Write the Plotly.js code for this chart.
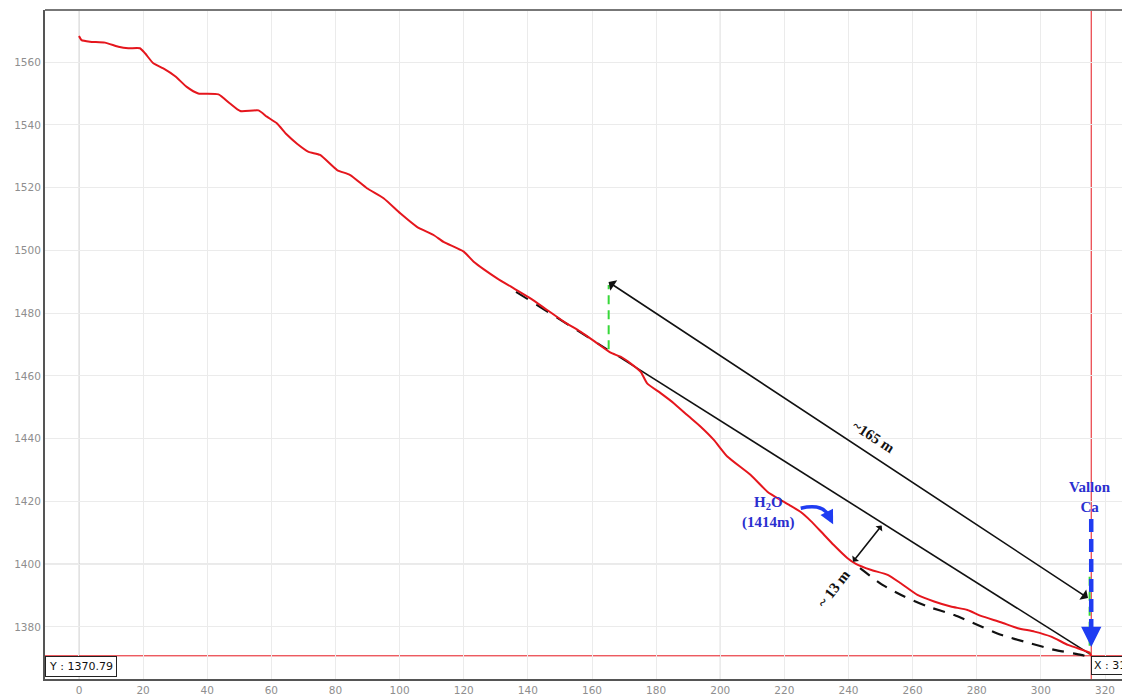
<!DOCTYPE html>
<html>
<head>
<meta charset="utf-8">
<script src="https://cdn.plot.ly/plotly-3.0.1.min.js"></script>
<style>html,body{margin:0;padding:0;background:#fff;}#chart{width:1122px;height:696px;}</style>
</head>
<body>
<div id="chart"></div>
<script>
// Terrain profile (distance m, altitude m)
var profX = [0,0.8,3.4,8.1,12.3,15.4,19.0,20.6,23.2,26.3,30.0,33.6,37.2,43.5,47.1,50.3,56.0,58.6,61.7,64.8,68.0,71.6,75.2,80.5,84.6,89.8,95.0,100.2,105.4,110.6,113.7,120.0,123.1,126.5,130.4,135.6,140.8,146.0,151.2,156.4,161.6,165.8,168.9,172.0,175.2,177.2,181.4,185.5,189.7,193.9,198.0,202.2,209.5,214.7,218.9,222.0,225.1,228.2,231.4,235.4,239.7,242.3,246.9,252.2,256.3,261.5,266.7,271.9,277.1,281.3,287.5,292.8,298.0,303.2,308.4,311.5,315.1,315.7];
var profY = [1568.3,1567.0,1566.5,1566.2,1564.9,1564.4,1564.4,1562.8,1559.6,1558.0,1555.5,1552.1,1550.0,1549.7,1546.8,1544.4,1544.6,1542.6,1540.5,1536.9,1534.0,1531.4,1530.4,1525.6,1524.0,1519.8,1516.6,1511.8,1507.5,1504.9,1502.7,1499.6,1496.4,1493.8,1491.1,1487.9,1484.7,1481.0,1477.3,1474.1,1470.4,1467.4,1466.1,1464.0,1461.3,1457.6,1454.5,1451.3,1447.5,1443.8,1439.6,1434.3,1428.4,1423.1,1420.4,1418.6,1416.6,1413.8,1410.4,1406.1,1401.9,1400.1,1398.2,1396.6,1393.9,1390.2,1388.1,1386.5,1385.4,1383.5,1381.5,1379.6,1378.5,1376.9,1374.3,1373.2,1371.8,1370.8];

// Construction lines
var slopeDashX = [136.3, 164.8];
var slopeDashY = [1486.8, 1468.4];
var slopeSolidX = [168.1, 315.2];
var slopeSolidY = [1466.3, 1371.4];
var lowDashX = [243.6, 250.6, 257.4, 264.7, 273.0, 280.3, 287.5, 295.9, 304.2, 312.5, 315.0];
var lowDashY = [1398.7, 1393.4, 1389.7, 1386.5, 1383.8, 1380.6, 1377.5, 1375.0, 1372.7, 1371.1, 1370.4];
var greenLeftX = [165.2, 165.2];
var greenLeftY = [1468.5, 1489.0];
var greenRightX = [315.2, 315.2];
var greenRightY = [1396.0, 1371.2];
var blueX = [315.7, 315.7];
var blueY = [1414.4, 1378.6];

// Measurement arrows [tailX, tailY, headX, headY]
var arrow165 = [164.7, 1490.2, 314.7, 1389.2];
var arrow13 = [250.7, 1412.8, 241.4, 1400.8];
var blueHead = [315.7, 1378.6, 315.7, 1373.6];
var curveArrow = [225.1, 1417.8, 232.0, 1419.4, 233.8, 1415.4];
var curveHead = [233.8, 1415.5, 235.2, 1412.7];

// Cursor
var cursorX = 315.7;
var cursorY = 1370.79;

// Labels
var lbl165 = {x: 247.9, y: 1440.5, text: '~165 m', angle: 33.2};
var lbl13 = {x: 235.2, y: 1392.2, text: '~ 13 m', angle: -52};
var lblH2O = {x: 215.0, y: 1416.4, text: 'H<sub>2</sub>O<br>(1414m)'};
var lblVallon = {x: 315.2, y: 1421.5, text: 'Vallon<br>Ca'};

var xRange = [-10.6, 325.3];
var yRange = [1363.4, 1576.6];

var RED = '#e5161d';
var BLUE = '#1f3cf2';
var BLUETXT = '#2b2fcf';
var GREEN = '#38d83a';

var traces = [
  {x: slopeDashX, y: slopeDashY, mode: 'lines', line: {color: '#111', width: 2, dash: '14px,10px'}, hoverinfo: 'skip'},
  {x: slopeSolidX, y: slopeSolidY, mode: 'lines', line: {color: '#111', width: 1.6}, hoverinfo: 'skip'},
  {x: lowDashX, y: lowDashY, mode: 'lines', line: {color: '#111', width: 2.2, dash: '12px,9px', shape: 'spline', smoothing: 0.6}, hoverinfo: 'skip'},
  {x: greenLeftX, y: greenLeftY, mode: 'lines', line: {color: GREEN, width: 2, dash: '9px,6px'}, hoverinfo: 'skip'},
  {x: greenRightX, y: greenRightY, mode: 'lines', line: {color: GREEN, width: 2, dash: '9px,6px'}, hoverinfo: 'skip'},
  {x: profX, y: profY, mode: 'lines', line: {color: RED, width: 2, shape: 'spline', smoothing: 0.5}, hoverinfo: 'skip'},
  {x: blueX, y: blueY, mode: 'lines', line: {color: BLUE, width: 4.5, dash: '13px,7px'}, hoverinfo: 'skip'}
];

var darkGrid = '#c4c4c4';
var shapes = [
  {type: 'line', xref: 'x', yref: 'paper', x0: 0, x1: 0, y0: 0, y1: 1, line: {color: darkGrid, width: 1}, layer: 'below'},
  {type: 'line', xref: 'x', yref: 'paper', x0: 200, x1: 200, y0: 0, y1: 1, line: {color: darkGrid, width: 1}, layer: 'below'},
  {type: 'line', xref: 'paper', yref: 'y', x0: 0, x1: 1, y0: 1400, y1: 1400, line: {color: darkGrid, width: 1}, layer: 'below'},
  {type: 'line', xref: 'paper', yref: 'paper', x0: 0, x1: 1, y0: 1, y1: 1, line: {color: '#777', width: 2}},
  {type: 'line', xref: 'x', yref: 'paper', x0: cursorX, x1: cursorX, y0: 0, y1: 1, line: {color: RED, width: 1}, layer: 'below'},
  {type: 'line', xref: 'paper', yref: 'y', x0: 0, x1: 1, y0: cursorY, y1: cursorY, line: {color: RED, width: 1}, layer: 'below'},
  {type: 'path', xref: 'x', yref: 'y',
   path: 'M ' + curveArrow[0] + ',' + curveArrow[1] + ' Q ' + curveArrow[2] + ',' + curveArrow[3] + ' ' + curveArrow[4] + ',' + curveArrow[5],
   line: {color: BLUE, width: 3.5}}
];

var serif = 'Liberation Serif, Times New Roman, serif';
var annotations = [
  {x: arrow165[2], y: arrow165[3], ax: arrow165[0], ay: arrow165[1], xref: 'x', yref: 'y', axref: 'x', ayref: 'y',
   showarrow: true, arrowhead: 1, startarrowhead: 1, arrowside: 'end+start', arrowsize: 1.3, startarrowsize: 1.3, arrowwidth: 1.6, arrowcolor: '#111', text: ''},
  {x: arrow13[2], y: arrow13[3], ax: arrow13[0], ay: arrow13[1], xref: 'x', yref: 'y', axref: 'x', ayref: 'y',
   showarrow: true, arrowhead: 1, startarrowhead: 1, arrowside: 'end+start', arrowsize: 0.9, startarrowsize: 0.9, arrowwidth: 1.6, arrowcolor: '#111', text: ''},
  {x: blueHead[2], y: blueHead[3], ax: blueHead[0], ay: blueHead[1], xref: 'x', yref: 'y', axref: 'x', ayref: 'y',
   showarrow: true, arrowhead: 2, arrowsize: 0.9, arrowwidth: 4.5, arrowcolor: BLUE, text: ''},
  {x: curveHead[2], y: curveHead[3], ax: curveHead[0], ay: curveHead[1], xref: 'x', yref: 'y', axref: 'x', ayref: 'y',
   showarrow: true, arrowhead: 2, arrowsize: 0.8, arrowwidth: 3.5, arrowcolor: BLUE, text: ''},
  {x: lbl165.x, y: lbl165.y, xref: 'x', yref: 'y', text: '<b>' + lbl165.text + '</b>', textangle: lbl165.angle, showarrow: false,
   font: {family: serif, size: 15, color: '#111'}},
  {x: lbl13.x, y: lbl13.y, xref: 'x', yref: 'y', text: '<b>' + lbl13.text + '</b>', textangle: lbl13.angle, showarrow: false,
   font: {family: serif, size: 15, color: '#111'}},
  {x: lblH2O.x, y: lblH2O.y, xref: 'x', yref: 'y', text: '<b>' + lblH2O.text + '</b>', showarrow: false,
   font: {family: serif, size: 15, color: BLUETXT}},
  {x: lblVallon.x, y: lblVallon.y, xref: 'x', yref: 'y', text: '<b>' + lblVallon.text + '</b>', showarrow: false,
   font: {family: serif, size: 15, color: BLUETXT}},
  {x: 0, y: cursorY, xref: 'paper', yref: 'y', xanchor: 'left', yanchor: 'top', text: 'Y : ' + cursorY.toFixed(2), showarrow: false,
   font: {family: 'DejaVu Sans, Verdana, sans-serif', size: 11, color: '#111'}, bgcolor: '#fff', bordercolor: '#222', borderwidth: 1, borderpad: 3},
  {x: cursorX, y: cursorY, xref: 'x', yref: 'y', xanchor: 'left', yanchor: 'top', text: 'X : ' + cursorX.toFixed(2), showarrow: false,
   font: {family: 'DejaVu Sans, Verdana, sans-serif', size: 11, color: '#111'}, bgcolor: '#fff', bordercolor: '#222', borderwidth: 1, borderpad: 2}
];

var tickFont = {family: 'DejaVu Sans, Verdana, sans-serif', size: 10.5, color: '#8e8e8e'};
var layout = {
  width: 1122, height: 696,
  margin: {l: 45, r: 0, t: 10, b: 17, pad: 0},
  paper_bgcolor: '#fff', plot_bgcolor: '#fff',
  showlegend: false,
  hovermode: false,
  xaxis: {range: xRange, tick0: 0, dtick: 20, showgrid: true, gridcolor: '#ebebeb', gridwidth: 1, zeroline: false,
          showline: true, linecolor: '#555', linewidth: 2, ticks: '', tickfont: tickFont, automargin: false},
  yaxis: {range: yRange, tick0: 1380, dtick: 20, showgrid: true, gridcolor: '#ebebeb', gridwidth: 1, zeroline: false,
          showline: true, linecolor: '#555', linewidth: 2, ticks: '', tickfont: tickFont, automargin: false},
  shapes: shapes,
  annotations: annotations
};

Plotly.newPlot('chart', traces, layout, {displayModeBar: false, staticPlot: true});
</script>
</body>
</html>
